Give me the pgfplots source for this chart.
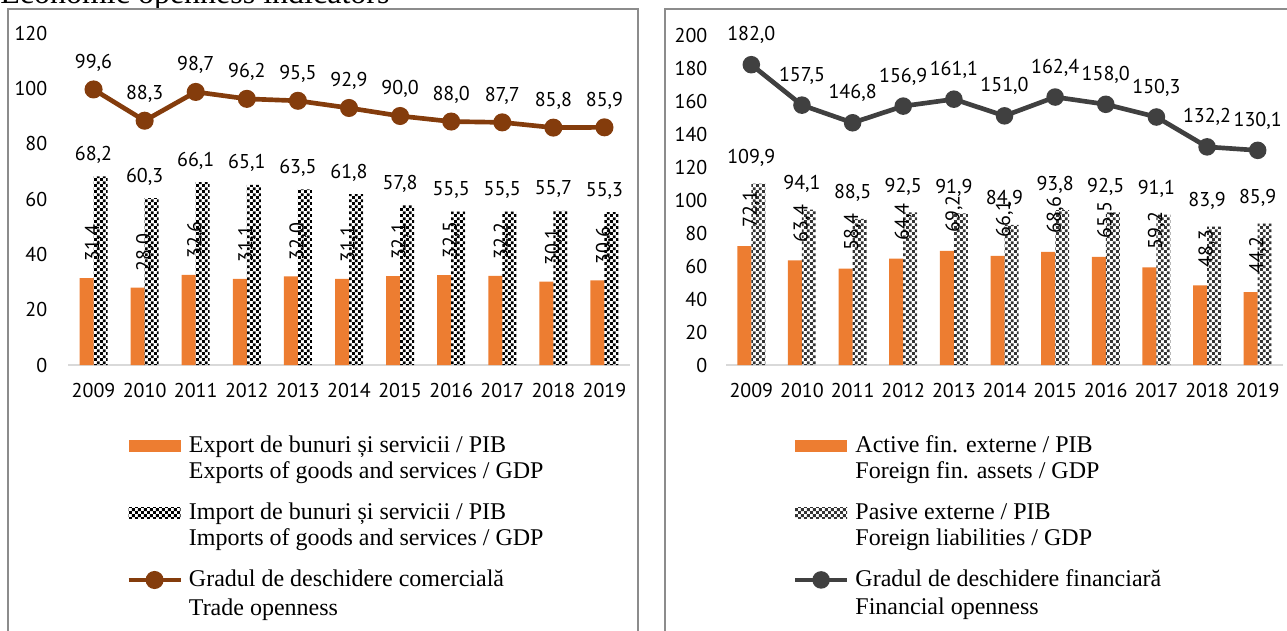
\documentclass[border=0pt]{standalone}
\usepackage{fontspec}
\setmainfont{Liberation Serif}
\newfontfamily\numfont{PT Sans}
\usepackage{pgfplots}
\usepackage{pgfplotstable}
\pgfplotsset{compat=1.18}
\usetikzlibrary{patterns}
\definecolor{barorange}{HTML}{ED7D31}
\definecolor{tradebrown}{HTML}{843C0C}
\definecolor{findark}{HTML}{404040}
\definecolor{checkdark}{HTML}{333333}
\definecolor{framegray}{HTML}{8C8C8C}
\definecolor{basegray}{HTML}{D9D9D9}
\pgfdeclarepatternformonly{checker}{\pgfpointorigin}{\pgfqpoint{4.4pt}{4.4pt}}{\pgfqpoint{4.4pt}{4.4pt}}{%
 \pgfpathrectangle{\pgfpointorigin}{\pgfqpoint{2.2pt}{2.2pt}}%
 \pgfpathrectangle{\pgfqpoint{2.2pt}{2.2pt}}{\pgfqpoint{2.2pt}{2.2pt}}%
 \pgfusepath{fill}}

\pgfplotstableread{
x exp imp trade
0 31.4 68.2 99.6
1 28.0 60.3 88.3
2 32.6 66.1 98.7
3 31.1 65.1 96.2
4 32.0 63.5 95.5
5 31.1 61.8 92.9
6 32.1 57.8 90.0
7 32.5 55.5 88.0
8 32.2 55.5 87.7
9 30.1 55.7 85.8
10 30.6 55.3 85.9
}\tradedata

\pgfplotstableread{
x ass lia fin
0 72.1 109.9 182.0
1 63.4 94.1 157.5
2 58.4 88.5 146.8
3 64.4 92.5 156.9
4 69.2 91.9 161.1
5 66.1 84.9 151.0
6 68.6 93.8 162.4
7 65.5 92.5 158.0
8 59.2 91.1 150.3
9 48.3 83.9 132.2
10 44.2 85.9 130.1
}\findata

\newcommand\lbl{\pgfmathprintnumber[fixed,fixed zerofill,precision=1,use comma,assume math mode=true]{\pgfplotspointmeta}}
\newcommand\numsize{\numfont\fontsize{15}{17}\selectfont}
% legend rows: first line, second line, spacer
\newcommand\lA[1]{\rule{0pt}{14pt}#1}
\newcommand\lB[1]{\rule{0pt}{19.5pt}#1}
\newcommand\lS{\rule{0pt}{16.75pt}}

\pgfplotsset{
 panel/.style={
  scale only axis, xmin=-0.5, xmax=10.5, ymin=0,
  axis x line=bottom, axis y line=left, axis line style={-},
  y axis line style={draw=none},
  x axis line style={basegray, line width=2pt},
  xtick={0,1,2,3,4,5,6,7,8,9,10},
  xticklabels={2009,2010,2011,2012,2013,2014,2015,2016,2017,2018,2019},
  major tick length=0pt,
  tick label style={font=\numsize, text=black},
  /pgf/number format/assume math mode=true,
  xticklabel style={yshift=-10pt},
  clip=false,
  legend cell align=left,
  legend style={draw=none, fill=none, inner sep=0pt,
    font=\fontsize{18}{19.5}\selectfont,
    nodes={inner sep=0pt, text depth=0pt},
    /tikz/every odd column/.append style={column sep=4.5pt},
    row sep=0pt},
 },
}

\begin{document}
\begin{tikzpicture}[x=0.75pt,y=-0.75pt]
\useasboundingbox (0,0) rectangle (1287,631);
\node[anchor=base west, font=\fontsize{24}{28}\selectfont, inner sep=0pt] at (0,4) {Economic openness indicators};
\draw[framegray, line width=1.1pt] (8,650) -- (8,9) -- (638,9) -- (638,650);
\draw[framegray, line width=1.1pt] (665,650) -- (665,9) -- (1300,9);

% left panel
\begin{axis}[panel, at={(51pt,-273.75pt)}, anchor=south west,
  width=421.5pt, height=249pt, ymax=120, ytick={0,20,...,120},
  yticklabel style={xshift=-12pt},
  legend style={at={(0.1032,-0.207)}, anchor=north west}]
\addplot[ybar, bar width=10.5pt, bar shift=-5.25pt, fill=barorange, draw=none,
  nodes near coords={\rotatebox{90}{\lbl}},
  every node near coord/.append style={anchor=south, inner sep=0pt, yshift=12pt, font=\numsize, text=black},
  legend image code/.code={\path[draw=none,fill=none] (0pt,-7pt) -- (0pt,7pt); \fill[barorange] (0pt,-6.5pt) rectangle (39pt,2.5pt);}]
  table[x=x,y=exp]{\tradedata};
\addlegendentry{\lA{Export de bunuri și servicii / PIB}}
\addlegendimage{empty legend}
\addlegendentry{\lB{Exports of goods and services / GDP}}
\addlegendimage{empty legend}
\addlegendentry{\lS}
\addplot[ybar, bar width=10.5pt, bar shift=5.25pt, draw=none, pattern=checker, pattern color=black,
  nodes near coords={\lbl},
  every node near coord/.append style={anchor=base, yshift=12pt, inner sep=0pt, font=\numsize, text=black},
  legend image code/.code={\path[draw=none,fill=none] (0pt,-7pt) -- (0pt,7pt); \fill[pattern=checker, pattern color=black] (0pt,-6pt) rectangle (39pt,2pt);}]
  table[x=x,y=imp]{\tradedata};
\addlegendentry{\lA{Import de bunuri și servicii / PIB}}
\addlegendimage{empty legend}
\addlegendentry{\lB{Imports of goods and services / GDP}}
\addlegendimage{empty legend}
\addlegendentry{\lS}
\addplot[sharp plot, tradebrown, line width=3.5pt, mark=*, mark size=5pt,
  nodes near coords={\lbl},
  every node near coord/.append style={anchor=base, yshift=16pt, inner sep=0pt, font=\numsize, text=black},
  legend image code/.code={\path[draw=none,fill=none] (0pt,-7pt) -- (0pt,7pt); \draw[tradebrown, line width=3.5pt] (0pt,-2pt) -- (39pt,-2pt); \fill[tradebrown] (19.5pt,-2pt) circle (5pt);}]
  table[x=x,y=trade]{\tradedata};
\addlegendentry{\lA{Gradul de deschidere comercială}}
\addlegendimage{empty legend}
\addlegendentry{\lB{Trade openness}}
\end{axis}

% right panel
\begin{axis}[panel, at={(544.5pt,-273.75pt)}, anchor=south west,
  width=417.75pt, height=247.5pt, ymax=200, ytick={0,20,...,200},
  yticklabel style={xshift=-10.5pt},
  legend style={at={(0.1194,-0.208)}, anchor=north west}]
\addplot[ybar, bar width=10.5pt, bar shift=-5.25pt, fill=barorange, draw=none,
  nodes near coords={\rotatebox{90}{\lbl}},
  every node near coord/.append style={anchor=south, inner sep=0pt, yshift=13.5pt, font=\numsize, text=black},
  legend image code/.code={\path[draw=none,fill=none] (0pt,-7pt) -- (0pt,7pt); \fill[barorange] (0pt,-6.5pt) rectangle (39pt,2.5pt);}]
  table[x=x,y=ass]{\findata};
\addlegendentry{\lA{Active fin. externe / PIB}}
\addlegendimage{empty legend}
\addlegendentry{\lB{Foreign fin. assets / GDP}}
\addlegendimage{empty legend}
\addlegendentry{\lS}
\addplot[ybar, bar width=10.5pt, bar shift=5.25pt, draw=none, pattern=checker, pattern color=checkdark,
  nodes near coords={\lbl},
  every node near coord/.append style={anchor=base, yshift=15pt, inner sep=0pt, font=\numsize, text=black},
  legend image code/.code={\path[draw=none,fill=none] (0pt,-7pt) -- (0pt,7pt); \fill[pattern=checker, pattern color=checkdark] (0pt,-6pt) rectangle (39pt,2pt);}]
  table[x=x,y=lia]{\findata};
\addlegendentry{\lA{Pasive externe / PIB}}
\addlegendimage{empty legend}
\addlegendentry{\lB{Foreign liabilities / GDP}}
\addlegendimage{empty legend}
\addlegendentry{\lS}
\addplot[sharp plot, findark, line width=3.5pt, mark=*, mark size=4.8pt,
  nodes near coords={\lbl},
  every node near coord/.append style={anchor=base, yshift=18pt, inner sep=0pt, font=\numsize, text=black},
  legend image code/.code={\path[draw=none,fill=none] (0pt,-7pt) -- (0pt,7pt); \draw[findark, line width=3.5pt] (0pt,-2pt) -- (39pt,-2pt); \fill[findark] (19.5pt,-2pt) circle (4.8pt);}]
  table[x=x,y=fin]{\findata};
\addlegendentry{\lA{Gradul de deschidere financiară}}
\addlegendimage{empty legend}
\addlegendentry{\lB{Financial openness}}
\end{axis}
\end{tikzpicture}
\end{document}
